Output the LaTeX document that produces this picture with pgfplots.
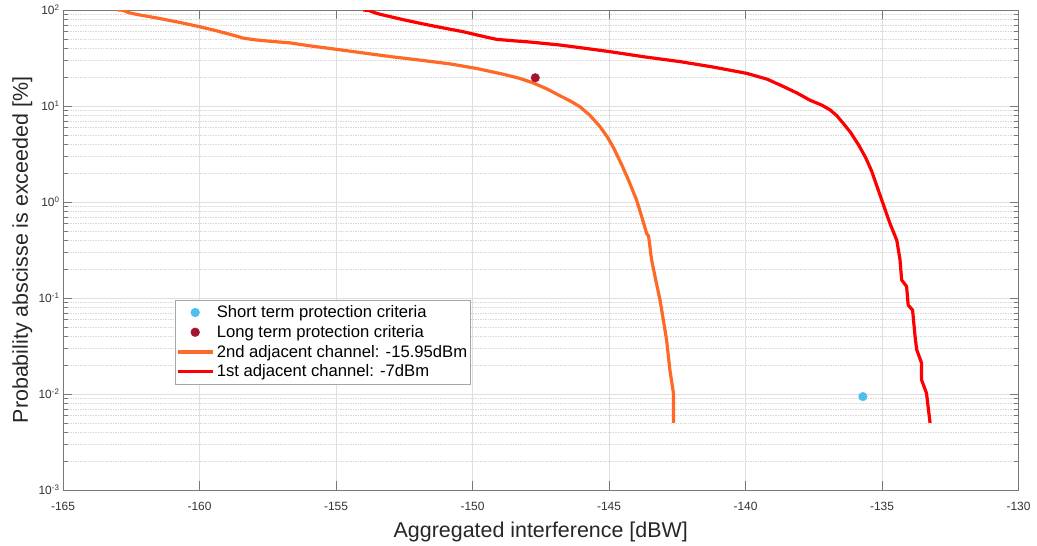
\documentclass[border=0pt]{standalone}
\usepackage{fontspec}
\setmainfont{Liberation Sans}
\usepackage{pgfplots}
\pgfplotsset{compat=1.18}
\definecolor{corange}{RGB}{255,105,40}
\definecolor{cred}{RGB}{255,0,0}
\definecolor{cblue}{RGB}{77,190,238}
\definecolor{cdred}{RGB}{162,20,47}
\definecolor{axgray}{RGB}{120,120,120}
\begin{document}
\begin{tikzpicture}
\begin{axis}[
  scale only axis,
  width=955.5bp, height=480bp,
  xmin=-165, xmax=-130,
  ymode=log, log basis y=10,
  ymin=1e-3, ymax=1e2,
  xtick={-165,-160,-155,-150,-145,-140,-135,-130},
  xticklabels={-165,-160,-155,-150,-145,-140,-135,-130},
  ytick={1e-3,1e-2,1e-1,1e0,1e1,1e2},
  yticklabels={10\textsuperscript{-3},10\textsuperscript{-2},10\textsuperscript{-1},10\textsuperscript{0},10\textsuperscript{1},10\textsuperscript{2}},
  minor ytick={2e-3,3e-3,4e-3,5e-3,6e-3,7e-3,8e-3,9e-3,
               2e-2,3e-2,4e-2,5e-2,6e-2,7e-2,8e-2,9e-2,
               2e-1,3e-1,4e-1,5e-1,6e-1,7e-1,8e-1,9e-1,
               2,3,4,5,6,7,8,9,
               20,30,40,50,60,70,80,90},
  minor x tick num=0,
  tick align=inside,
  major tick length=9bp,
  minor tick length=5bp,
  every tick/.style={axgray, line width=0.6bp},
  axis line style={axgray, line width=0.8bp},
  grid=both,
  xminorgrids=false,
  major grid style={gray!25, line width=0.6bp},
  minor grid style={gray!30, line width=0.5bp, dash pattern=on 1.5bp off 1bp},
  tick label style={font=\fontsize{12}{14}\selectfont, text=black!80},
  xticklabel style={yshift=-9bp},
  xlabel={Aggregated interference [dBW]},
  ylabel={Probability abscisse is exceeded [\%]},
  every axis x label/.style={at={(axis description cs:0.5,0)}, yshift=-47.5bp, anchor=base,
     font=\fontsize{21.5}{24}\selectfont, text=black!85},
  every axis y label/.style={at={(axis description cs:0,0.5)}, xshift=-35bp, rotate=90, anchor=base,
     font=\fontsize{21.5}{24}\selectfont, text=black!85},
  legend image code/.code={\draw[mark repeat=2,mark phase=2,#1] plot coordinates {(0bp,0bp) (17.5bp,0bp) (35bp,0bp)};},
  legend style={at={(rel axis cs:0.117,0.396)}, anchor=north west, draw=gray!70, line width=0.6bp,
    font=\fontsize{16.7}{19}\selectfont, inner xsep=1bp, inner ysep=3.5bp, row sep=2.2bp,
    nodes={inner xsep=2.5bp}},
  legend cell align=left,
]
\addplot[only marks, mark=*, mark size=4.3bp, mark options={draw=cblue, fill=cblue}] coordinates {(-135.7,0.0094)};
\addlegendentry{Short term protection criteria}
\addplot[only marks, mark=*, mark size=4.3bp, mark options={draw=cdred, fill=cdred}] coordinates {(-147.7,19.7)};
\addlegendentry{Long term protection criteria}
\addplot[corange, line width=3.2bp, line join=round] coordinates {
(-163.0,100) (-162.8,99.5) (-162.6,94) (-162.3,90) (-161.5,82) (-160.7,74) (-160.0,67)
(-159.4,61) (-158.8,55) (-158.4,51) (-158.0,49) (-157.5,47.5) (-156.7,45.5) (-156.0,42.5)
(-155.0,39) (-154.0,35.7) (-153.0,32.7) (-151.9,30) (-150.8,27.4) (-149.85,24.6)
(-148.9,21.5) (-148.3,19.5) (-147.8,17.5) (-147.3,15.2) (-146.8,12.8) (-146.4,11.2)
(-146.06,9.8) (-145.7,8) (-145.33,6.1) (-145.05,4.7) (-144.84,3.7) (-144.55,2.5)
(-144.29,1.7) (-143.99,1.05) (-143.8,0.7) (-143.62,0.47) (-143.55,0.44) (-143.44,0.25)
(-143.3,0.16) (-143.13,0.095) (-143.07,0.075) (-142.89,0.0365) (-142.77,0.0178)
(-142.64,0.0102) (-142.64,0.005)
};
\addlegendentry{2nd adjacent channel: -15.95dBm}
\addplot[cred, line width=3.2bp, line join=round] coordinates {
(-154.0,100) (-153.8,99) (-153.6,94) (-153.4,90.5) (-152.6,80) (-151.8,71.5) (-151.0,64.5)
(-150.34,59.4) (-149.6,53) (-149.12,49.5) (-148.5,47.8) (-147.9,46.4) (-146.8,43.2)
(-145.9,40) (-144.96,36.8) (-143.7,32.5) (-142.4,29) (-141.2,25.5) (-139.96,21.9)
(-139.2,19) (-138.6,15.9) (-138.1,13.6) (-137.64,11.5) (-137.2,10.2) (-136.9,9.1)
(-136.65,7.9) (-136.42,6.6) (-136.15,5.3) (-135.85,3.9) (-135.6,2.9) (-135.38,2.1)
(-135.2,1.5) (-135.01,1.05)
(-134.71,0.6) (-134.46,0.40) (-134.34,0.25) (-134.28,0.154) (-134.1,0.132) (-134.04,0.084)
(-133.88,0.075) (-133.79,0.04) (-133.73,0.029) (-133.55,0.021) (-133.55,0.014) (-133.37,0.0102)
(-133.24,0.005)
};
\addlegendentry{1st adjacent channel: -7dBm}
\end{axis}
\path (current axis.south west) ++(-63bp,-55bp);
\path (current axis.north east) ++(18.5bp,10bp);
\end{tikzpicture}
\end{document}
